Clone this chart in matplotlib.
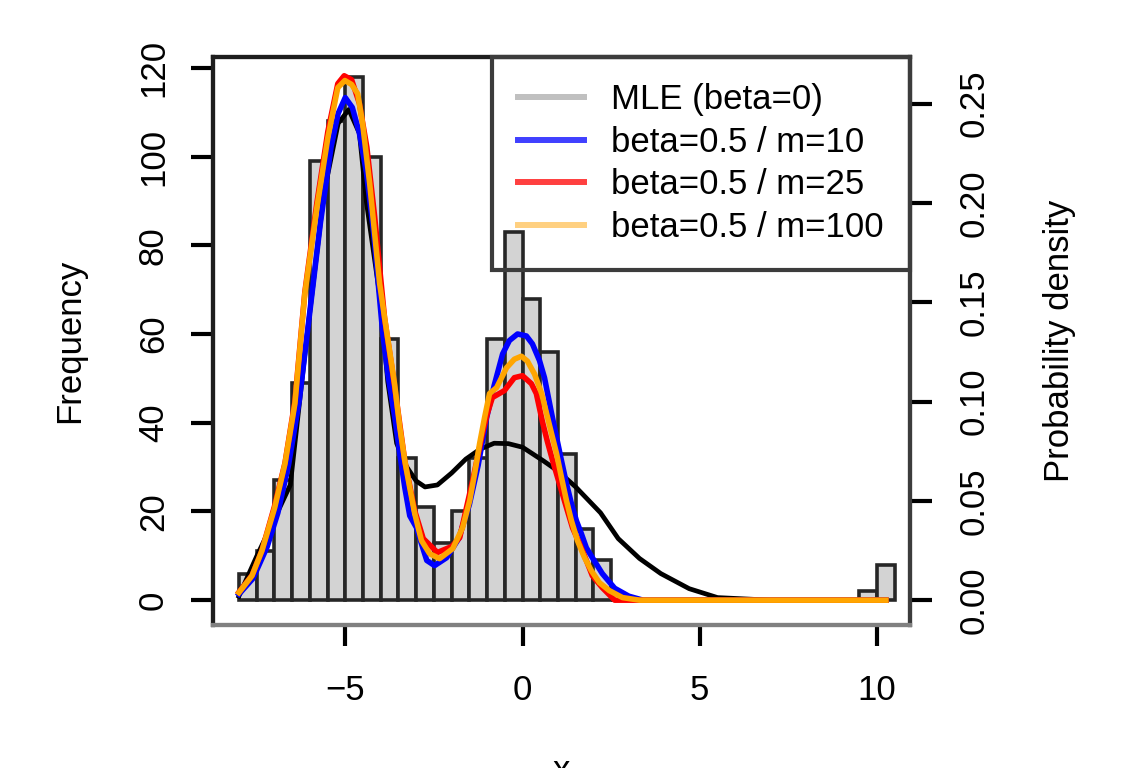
import numpy as np
import matplotlib.pyplot as plt
from matplotlib.lines import Line2D

plt.rcParams['font.family'] = ['Liberation Sans', 'DejaVu Sans']
plt.rcParams['font.size'] = 25

# histogram of the sample, bins of width 0.5 from -8 to 10.5
breaks = np.arange(-8.0, 10.75, 0.5)
counts = [6, 11, 27, 49, 99, 108, 118, 100, 59, 32, 21, 13, 20, 32, 59, 83,
          68, 56, 33, 16, 9, 0, 0, 0, 0, 0, 0, 0, 0, 0, 0, 0, 0, 0, 0, 2, 8]

# fitted densities
mle_x = [-8.0, -7.5, -7.1, -6.55, -6.1, -5.6, -5.2, -4.9, -4.6, -4.4, -4.0, -3.8,
         -3.55, -3.3, -3.0, -2.75, -2.4, -2.0, -1.6, -1.2, -0.8, -0.4, 0.0, 0.6,
         1.0, 1.5, 2.2, 2.7, 3.3, 3.9, 4.7, 5.5, 7.0, 10.25]
mle_d = [0.002, 0.022, 0.037, 0.058, 0.13, 0.205, 0.24, 0.247, 0.235, 0.2, 0.15,
         0.11, 0.079, 0.068, 0.06, 0.057, 0.058, 0.064, 0.071, 0.076, 0.079, 0.0788,
         0.077, 0.07, 0.065, 0.057, 0.044, 0.031, 0.021, 0.0134, 0.0058, 0.0013,
         0.0, 0.0]

m10_x = [-8.0, -7.6, -7.2, -6.9, -6.6, -6.3, -6.0, -5.7, -5.4, -5.2, -5.0, -4.8,
         -4.6, -4.4, -4.2, -3.94, -3.8, -3.6, -3.46, -3.32, -3.18, -2.99, -2.85,
         -2.7, -2.48, -2.14, -1.8, -1.5, -1.25, -1.01, -0.8, -0.56, -0.37, -0.14,
         0.11, 0.28, 0.48, 0.62, 0.82, 0.96, 1.1, 1.24, 1.38, 1.52, 1.66, 1.8,
         1.97, 2.25, 2.6, 3.0, 3.4, 10.25]
m10_d = [0.003, 0.011, 0.027, 0.044, 0.068, 0.1, 0.145, 0.19, 0.228, 0.245, 0.253,
         0.248, 0.235, 0.215, 0.185, 0.134, 0.114, 0.0916, 0.0735, 0.0567, 0.0425,
         0.0365, 0.0284, 0.02, 0.0174, 0.0214, 0.031, 0.048, 0.068, 0.092, 0.108,
         0.124, 0.1307, 0.134, 0.133, 0.129, 0.1206, 0.112, 0.094, 0.082, 0.0702,
         0.0587, 0.0486, 0.04, 0.0335, 0.0264, 0.0214, 0.0134, 0.006, 0.002, 0.0,
         0.0]

m25_x = [-8.0, -7.63, -7.35, -7.0, -6.7, -6.42, -6.14, -5.8, -5.49, -5.21, -5.03,
         -4.82, -4.6, -4.39, -4.17, -3.89, -3.61, -3.32, -3.04, -2.8, -2.4, -2.0,
         -1.77, -1.58, -1.41, -1.27, -1.13, -0.99, -0.85, -0.51, -0.23, 0.0, 0.25,
         0.39, 0.56, 0.7, 0.85, 1.04, 1.24, 1.41, 1.61, 1.8, 1.97, 2.25, 2.6,
         10.25]
m25_d = [0.004, 0.0125, 0.025, 0.047, 0.069, 0.1, 0.155, 0.2, 0.236, 0.26, 0.264,
         0.262, 0.25, 0.228, 0.193, 0.142, 0.108, 0.07, 0.045, 0.031, 0.024, 0.027,
         0.0315, 0.0466, 0.06, 0.0718, 0.0838, 0.094, 0.102, 0.1055, 0.112, 0.113,
         0.109, 0.104, 0.09, 0.08, 0.0702, 0.0587, 0.0466, 0.0365, 0.0284, 0.02,
         0.0123, 0.0063, 0.0, 0.0]

m100_x = [-8.0, -7.63, -7.35, -6.99, -6.7, -6.42, -6.14, -5.8, -5.49, -5.21, -5.01,
          -4.82, -4.65, -4.51, -4.31, -4.03, -3.89, -3.61, -3.46, -3.32, -3.18,
          -3.04, -2.85, -2.62, -2.34, -1.97, -1.69, -1.49, -1.35, -1.21, -1.07,
          -0.93, -0.73, -0.45, -0.23, -0.03, 0.14, 0.34, 0.54, 0.68, 0.82, 0.96,
          1.1, 1.24, 1.38, 1.55, 1.75, 1.94, 2.17, 2.45, 2.82, 3.3, 10.25]
m100_d = [0.0038, 0.0123, 0.0249, 0.0466, 0.0687, 0.099, 0.1543, 0.1976, 0.2329,
          0.258, 0.2616, 0.2596, 0.255, 0.24, 0.2097, 0.1594, 0.1422, 0.109, 0.0869,
          0.0702, 0.0566, 0.0436, 0.03, 0.0234, 0.0209, 0.0259, 0.0365, 0.0501,
          0.0637, 0.0788, 0.0919, 0.104, 0.107, 0.117, 0.1213, 0.1228, 0.1203,
          0.1138, 0.104, 0.0939, 0.0838, 0.0738, 0.0617, 0.0501, 0.04, 0.03, 0.0214,
          0.0149, 0.0088, 0.0048, 0.0013, 0.0, 0.0]

legend_labels = ['MLE (beta=0)', 'beta=0.5 / m=10', 'beta=0.5 / m=25',
                 'beta=0.5 / m=100']

fig = plt.figure(figsize=(11.27, 7.68), dpi=100)
ax = fig.add_axes([213 / 1127, 1 - 625 / 768, 697 / 1127, 568 / 768])

widths = np.diff(breaks)
ax.bar(breaks[:-1], counts, width=widths, align='edge', color='#d3d3d3',
       edgecolor='#262626', linewidth=2.6)

count_lim = (-5.6, 122.5)
scale = 448.0
ax.set_xlim(-8.73, 10.93)
ax.set_ylim(*count_lim)
ax.set_xticks([-5, 0, 5, 10])
ax.set_yticks([0, 20, 40, 60, 80, 100, 120])
ax.set_yticklabels(['0', '20', '40', '60', '80', '100', '120'], rotation=90,
                   va='center')
ax.tick_params(axis='y', length=16, width=3, pad=15)
ax.tick_params(axis='x', length=15, width=3, pad=20)

ax2 = ax.twinx()
ax2.set_ylim(count_lim[0] / scale, count_lim[1] / scale)
ax2.plot(mle_x, mle_d, color='black', lw=3.4, solid_joinstyle='round')
ax2.plot(m10_x, m10_d, color='#0000ff', lw=4, solid_joinstyle='round')
ax2.plot(m25_x, m25_d, color='#ff0000', lw=4, solid_joinstyle='round')
ax2.plot(m100_x, m100_d, color='#ffa500', lw=4, solid_joinstyle='round')
ax2.set_yticks([0.0, 0.05, 0.10, 0.15, 0.20, 0.25])
ax2.set_yticklabels(['0.00', '0.05', '0.10', '0.15', '0.20', '0.25'],
                    rotation=90, va='center')
ax2.tick_params(axis='y', length=16, width=3, pad=18)

for a in (ax, ax2):
    a.spines['top'].set_color('#1e1e1e')
    a.spines['left'].set_color('#1e1e1e')
    a.spines['right'].set_color('#3c3c3c')
    a.spines['bottom'].set_color('#808080')
    for s in a.spines.values():
        s.set_linewidth(3)

# tick marks come out in uneven greys in the reference
left_tick_cols = ['#f0f0f0', '#f0f0f0', '#f0f0f0', '#f0f0f0', 'black', 'black', 'black']
for t, c in zip(ax.yaxis.get_major_ticks(), left_tick_cols):
    t.tick1line.set_color(c)
right_tick_cols = ['#f0f0f0', '#c0c0c0', '#222222', 'black', 'black', '#e0e0e0']
for t, c in zip(ax2.yaxis.get_major_ticks(), right_tick_cols):
    t.tick2line.set_color(c)
x_tick_cols = ['black', '#222222', '#808080', '#222222']
for t, c in zip(ax.xaxis.get_major_ticks(), x_tick_cols):
    t.tick1line.set_color(c)

handles = [Line2D([], [], color=c, lw=4.3) for c in
           ['#c0c0c0', '#4040ff', '#ff4040', '#ffd080']]
leg = ax2.legend(handles, legend_labels, loc='upper right', bbox_to_anchor=(1, 1),
                 borderaxespad=0, fancybox=False, frameon=True,
                 handlelength=1.9, handletextpad=0.8,
                 borderpad=0.75, labelspacing=0.28, fontsize=25)
frame = leg.get_frame()
frame.set_facecolor('none')
frame.set_edgecolor('#3c3c3c')
frame.set_alpha(None)
frame.set_linewidth(3)

fig.text(70 / 1127, 1 - 341 / 768, 'Frequency', rotation=90, ha='center',
         va='center')
fig.text(1060 / 1127, 1 - 341 / 768, 'Probability density', rotation=90,
         ha='center', va='center')
fig.text(561 / 1127, 1 - 780 / 768, 'x', ha='center', va='baseline')

fig.savefig('out.png', dpi=100)
